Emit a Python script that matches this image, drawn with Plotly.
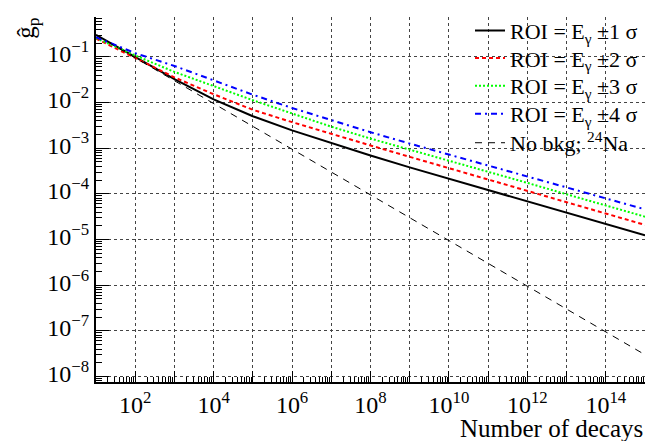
import plotly.graph_objects as go

# Number of decays (one point per decade, 10^1 ... 10^15)
n_decays = [1e1, 1e2, 1e3, 1e4, 1e5, 1e6, 1e7, 1e8, 1e9, 1e10, 1e11, 1e12, 1e13, 1e14, 1e15]

# log10 of g_p
log_g_1sigma = [-0.52, -1.00, -1.49, -1.93, -2.30, -2.61, -2.89, -3.16, -3.42, -3.67, -3.92, -4.17, -4.42, -4.66, -4.91]
log_g_2sigma = [-0.60, -1.03, -1.45, -1.82, -2.16, -2.43, -2.69, -2.94, -3.19, -3.44, -3.68, -3.94, -4.19, -4.44, -4.68]
log_g_3sigma = [-0.59, -0.97, -1.33, -1.64, -1.95, -2.24, -2.53, -2.79, -3.03, -3.27, -3.51, -3.76, -4.01, -4.26, -4.50]
log_g_4sigma = [-0.57, -0.92, -1.20, -1.52, -1.83, -2.12, -2.39, -2.65, -2.90, -3.14, -3.38, -3.62, -3.86, -4.10, -4.34]
g_nobkg = [0.30, 0.095, 0.030, 0.0095, 0.0030, 9.5e-4, 3.0e-4, 9.5e-5, 3.0e-5, 9.5e-6, 3.0e-6, 9.5e-7, 3.0e-7, 9.5e-8, 3.0e-8]

series_names = ["ROI = E<sub>γ</sub> ±1 σ", "ROI = E<sub>γ</sub> ±2 σ",
                "ROI = E<sub>γ</sub> ±3 σ", "ROI = E<sub>γ</sub> ±4 σ",
                "No bkg; <sup>24</sup>Na"]

x_major = [10.0 ** k for k in range(1, 16)]
x_labels = ["" if k % 2 else "10<sup>%d</sup>" % k for k in range(1, 16)]
x_minor = [m * 10.0 ** k for k in range(1, 15) for m in range(2, 10)]
y_major = [10.0 ** k for k in range(-8, 0)]
y_labels = ["10<sup>−%d</sup>" % (-k) for k in range(-8, 0)]
y_minor = [m * 10.0 ** k for k in range(-9, 0) for m in range(2, 10)]

FONT = "Liberation Serif"
X_RANGE = [1, 15]
Y_RANGE = [-8.12, -0.128]

W, H = 655, 441
ML, MT, MR, MB = 96, 11, 10, 59
PLOT_H = H - MT - MB
PLOT_W = W - ML - MR

fig = go.Figure()
styles = [
    dict(color="black", width=2, dash="solid"),
    dict(color="#ff0000", width=2, dash="4px,3px"),
    dict(color="#00ff00", width=2, dash="2px,2px"),
    dict(color="#0000ff", width=2, dash="6px,4px,2px,4px"),
    dict(color="black", width=1, dash="7px,6px"),
]
all_y = [[10.0 ** v for v in lg] for lg in (log_g_1sigma, log_g_2sigma, log_g_3sigma, log_g_4sigma)] + [g_nobkg]
legend_ids = ["legend", "legend2", "legend3", "legend4", "legend5"]
for name, yv, st, lid in zip(series_names, all_y, styles, legend_ids):
    fig.add_trace(go.Scatter(x=n_decays, y=yv, mode="lines", name=name, line=st, legend=lid))

# empty trace that carries the overlay axes used for minor ticks
fig.add_trace(go.Scatter(x=[], y=[], xaxis="x2", yaxis="y2", showlegend=False, hoverinfo="skip"))

# legend rows (figure y of each legend row centre)
row_centres = [25, 53, 81, 109.5, 139]
legend_layout = {}
for lid, yc in zip(legend_ids, row_centres):
    legend_layout[lid] = dict(x=(470 - ML) / PLOT_W, y=(H - MB - yc) / PLOT_H, xanchor="left", yanchor="middle",
                              bgcolor="rgba(0,0,0,0)", borderwidth=0,
                              font=dict(family=FONT, size=22, color="black"))

fig.update_layout(
    width=W, height=H,
    margin=dict(l=ML, r=MR, t=MT, b=MB),
    paper_bgcolor="white", plot_bgcolor="white",
    font=dict(family=FONT, size=22, color="black"),
    showlegend=True,
    xaxis=dict(type="log", range=X_RANGE, showline=True, linecolor="black", linewidth=2,
               tickmode="array", tickvals=x_major, ticktext=x_labels,
               ticks="inside", ticklen=11, tickwidth=1, tickcolor="black",
               showgrid=True, gridcolor="#444444", griddash="dot", gridwidth=1,
               tickfont=dict(family=FONT, size=24), zeroline=False, mirror=False),
    yaxis=dict(type="log", range=Y_RANGE, showline=True, linecolor="black", linewidth=2,
               tickmode="array", tickvals=y_major, ticktext=y_labels,
               ticks="inside", ticklen=13, tickwidth=1, tickcolor="black",
               showgrid=True, gridcolor="#444444", griddash="dot", gridwidth=1,
               ticklabelshift=-3,
               tickfont=dict(family=FONT, size=24), zeroline=False, mirror=False),
    xaxis2=dict(type="log", range=X_RANGE, overlaying="x", anchor="y", side="bottom",
                tickmode="array", tickvals=x_minor, ticks="inside", ticklen=5,
                tickwidth=1, tickcolor="black", showticklabels=False, showgrid=False,
                showline=False, zeroline=False),
    yaxis2=dict(type="log", range=Y_RANGE, overlaying="y", anchor="x", side="left",
                tickmode="array", tickvals=y_minor, ticks="inside", ticklen=6,
                tickwidth=1, tickcolor="black", showticklabels=False, showgrid=False,
                showline=False, zeroline=False),
    **legend_layout,
)

fig.add_annotation(text="Number of decays", xref="paper", yref="paper",
                   x=1.0, y=-47 / PLOT_H, xanchor="right", yanchor="middle", showarrow=False,
                   font=dict(family=FONT, size=25))
fig.add_annotation(text="ĝ<sub>p</sub>", xref="paper", yref="paper",
                   x=(28 - ML) / PLOT_W, y=(H - MB - 22) / PLOT_H, xanchor="center", yanchor="middle",
                   showarrow=False, textangle=-90, font=dict(family=FONT, size=25))

fig.write_html("out.html", config={"displayModeBar": False},
               post_script="document.body.style.margin='0px';")
